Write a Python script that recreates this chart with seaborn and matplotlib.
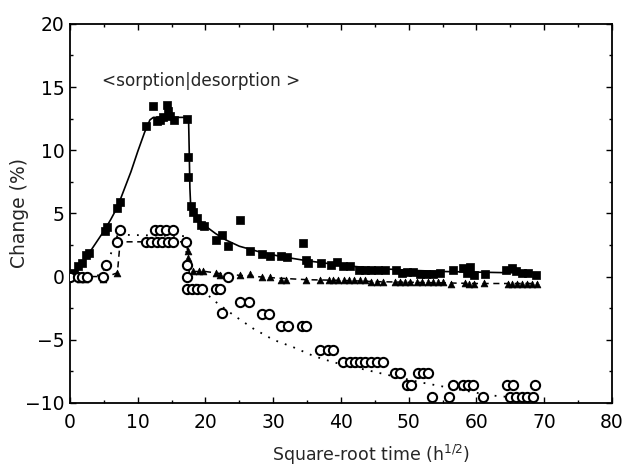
import matplotlib
matplotlib.use("Agg")
import matplotlib.pyplot as plt
import seaborn as sns
import pandas as pd
from matplotlib.ticker import MultipleLocator

# ---- data ----
sq_x = [0.6, 1.2, 1.8, 2.4, 2.8, 5.1, 5.5, 6.9, 7.4, 11.2, 12.3, 12.8, 13.3, 13.8, 14.3, 14.5, 14.8, 15.3,
        17.2, 17.4, 17.4, 17.8, 18.1, 18.7, 19.4, 19.8, 21.5, 22.5, 23.4, 25.1, 26.6, 28.4, 29.6, 31.2, 32.1,
        34.4, 34.9, 35.1, 37.1, 38.6, 39.4, 40.3, 41.3, 42.6, 43.5, 44.5, 45.5, 46.5, 48.2, 49.0, 49.7, 50.7,
        51.7, 52.6, 53.6, 54.6, 56.5, 58.0, 58.6, 59.1, 59.7, 61.2, 64.4, 65.3, 65.9, 66.8, 67.6, 68.8]
sq_y = [0.3, 0.8, 1.1, 1.7, 1.9, 3.6, 3.9, 5.4, 5.9, 11.9, 13.5, 12.3, 12.4, 12.6, 13.6, 13.1, 12.7, 12.4,
        12.5, 9.5, 7.9, 5.6, 5.1, 4.6, 4.1, 4.0, 2.9, 3.3, 2.4, 4.5, 2.05, 1.8, 1.65, 1.65, 1.55,
        2.65, 1.3, 1.05, 1.05, 0.95, 1.15, 0.8, 0.8, 0.55, 0.55, 0.5, 0.5, 0.5, 0.5, 0.3, 0.35, 0.35,
        0.2, 0.2, 0.2, 0.3, 0.55, 0.65, 0.3, 0.75, 0.15, 0.2, 0.5, 0.65, 0.45, 0.3, 0.25, 0.15]

tr_x = [1.5, 2.2, 4.9, 6.9, 17.4, 17.4, 18.2, 19.0, 19.7, 21.5, 22.2, 25.1, 26.6, 28.3, 29.6, 31.2, 31.9,
        34.8, 36.9, 38.2, 38.8, 39.6, 40.4, 41.2, 42.0, 42.8, 43.5, 44.5, 45.3, 46.2, 48.0, 48.7, 49.4,
        50.2, 51.3, 52.0, 52.8, 53.6, 54.4, 55.1, 56.3, 58.3, 58.9, 59.6, 61.1, 64.6, 65.3, 66.0, 66.8,
        67.5, 68.2, 68.9]
tr_y = [-0.2, -0.2, -0.2, 0.3, 2.0, 1.5, 0.45, 0.45, 0.45, 0.25, 0.15, 0.15, 0.2, 0.0, 0.0, -0.3, -0.3,
        -0.25, -0.3, -0.3, -0.3, -0.3, -0.3, -0.3, -0.3, -0.3, -0.3, -0.45, -0.45, -0.45, -0.45, -0.45, -0.45,
        -0.45, -0.45, -0.45, -0.45, -0.45, -0.45, -0.45, -0.55, -0.5, -0.55, -0.55, -0.5, -0.55, -0.55, -0.55, -0.55,
        -0.55, -0.55, -0.55]

ci_x = [0.0, 1.2, 1.7, 2.5, 4.9, 5.3, 6.9, 7.4,
        11.2, 12.0, 12.8, 13.6, 14.4, 15.2, 12.5, 13.3, 14.2, 15.2, 17.1,
        17.2, 17.3, 17.3, 18.0, 18.7, 19.5, 21.5, 22.2, 22.5, 23.4,
        25.1, 26.5, 28.3, 29.4, 31.2, 32.2, 34.2, 34.9, 36.9, 38.1, 38.9,
        40.3, 41.3, 42.1, 42.8, 43.5, 44.5, 45.3, 46.2,
        48.0, 48.7, 51.4, 52.1, 52.9,
        49.8, 50.3, 56.6, 58.0, 58.8, 59.5, 64.5, 65.4, 68.7,
        53.5, 55.9, 61.0, 64.9, 65.9, 66.7, 67.4, 68.3]
ci_y = [0.0, 0.0, 0.0, 0.0, 0.0, 0.9, 2.77, 3.7,
        2.77, 2.77, 2.77, 2.77, 2.77, 2.77, 3.7, 3.7, 3.7, 3.7, 2.7,
        0.9, 0.0, -1.0, -1.0, -1.0, -1.0, -1.0, -1.0, -2.9, 0.0,
        -2.0, -2.0, -3.0, -3.0, -3.9, -3.9, -3.9, -3.9, -5.8, -5.8, -5.8,
        -6.8, -6.8, -6.8, -6.8, -6.8, -6.8, -6.8, -6.8,
        -7.65, -7.65, -7.65, -7.65, -7.65,
        -8.6, -8.6, -8.6, -8.6, -8.6, -8.6, -8.6, -8.6, -8.6,
        -9.5, -9.5, -9.5, -9.5, -9.5, -9.5, -9.5, -9.5]

solid_x = [0, 1, 2, 3, 4, 5, 6, 7, 8, 9, 10, 11, 11.8, 12.3, 17.5, 17.6, 17.7, 17.8, 18.2, 19, 20, 21.5,
           23, 25, 28, 31, 35, 40, 45, 50, 55, 60, 65, 69]
solid_y = [0, 0.5, 1.2, 2.0, 2.8, 3.6, 4.5, 5.5, 6.9, 8.3, 9.9, 11.4, 12.4, 12.6, 12.6, 10.0, 7.0, 5.8, 5.2,
           4.5, 4.0, 3.4, 2.9, 2.4, 1.95, 1.6, 1.25, 0.9, 0.65, 0.5, 0.4, 0.35, 0.3, 0.3]

dash_x = [0, 5.5, 7.0, 7.4, 17.2, 17.4, 17.6, 18.5, 20, 22, 25, 30, 35, 40, 45, 50, 55, 60, 65, 69]
dash_y = [0, 0, 0.3, 2.75, 2.75, 1.8, 0.3, 0.4, 0.4, 0.25, 0.1, -0.1, -0.25, -0.3, -0.4, -0.45, -0.5,
          -0.55, -0.55, -0.55]

dot_x = [0, 4.5, 5.5, 7.3, 8.2, 17.0, 17.3, 17.6, 18.5, 20, 21.5, 24, 27, 30, 33, 36, 39, 43, 47, 52, 55,
         58, 62, 66, 69]
dot_y = [0, 0.1, 1.0, 3.7, 3.3, 3.2, 1.0, -0.2, -0.6, -1.3, -2.0, -3.0, -4.1, -5.0, -5.6, -6.3, -6.8,
         -7.3, -7.8, -8.4, -8.7, -9.0, -9.4, -9.6, -9.7]

x_ticks = [0, 10, 20, 30, 40, 50, 60, 70, 80]
y_ticks = [-10, -5, 0, 5, 10, 15, 20]

# ---- plotting ----
sns.set_style("ticks")
plt.rcParams['font.family'] = ['DejaVu Sans']

fig = plt.figure(figsize=(6.25, 4.69), dpi=100)
ax = fig.add_axes([0.112, 0.141, 0.867, 0.808])

sns.lineplot(x=solid_x, y=solid_y, ax=ax, color="black", lw=1.2, sort=False, estimator=None)
sns.lineplot(x=dash_x, y=dash_y, ax=ax, color="black", lw=1.1, sort=False, estimator=None,
             linestyle=(0, (4, 3)))
sns.lineplot(x=dot_x, y=dot_y, ax=ax, color="black", lw=1.3, sort=False, estimator=None,
             linestyle=(0, (1, 4)))

sns.scatterplot(x=sq_x, y=sq_y, ax=ax, marker="s", s=34, color="black", edgecolor="black", linewidth=0.5, zorder=3)
sns.scatterplot(x=tr_x, y=tr_y, ax=ax, marker="^", s=24, color="black", edgecolor="black", linewidth=0.5, zorder=3)
sns.scatterplot(x=ci_x, y=ci_y, ax=ax, marker="o", s=44, facecolor="white", edgecolor="black", linewidth=1.5, zorder=4)

ax.set_xlim(0, 80)
ax.set_ylim(-10, 20)
ax.set_xticks(x_ticks)
ax.set_yticks(y_ticks)
ax.xaxis.set_minor_locator(MultipleLocator(5))
ax.yaxis.set_minor_locator(MultipleLocator(2.5))
ax.tick_params(which="both", direction="in", top=True, right=True, colors="black", labelsize=13.5)
ax.tick_params(which="major", length=4.5, width=1.0)
ax.tick_params(which="minor", length=2.5, width=1.0)
ax.tick_params(axis="x", pad=7)
ax.tick_params(axis="y", pad=4)
for sp in ax.spines.values():
    sp.set_linewidth(1.3)
    sp.set_color("black")

ax.text(4.7, 15.5, "<sorption|desorption >", fontsize=12.2, ha="left", va="center")

fig.text(0.593, 0.03, r"Square-root time (h$^{1/2}$)", fontsize=12.5, ha="center", va="center")
fig.text(0.032, 0.546, "Change (%)", fontsize=13.5, ha="center", va="center", rotation=90)

fig.savefig("out.png", dpi=100)
